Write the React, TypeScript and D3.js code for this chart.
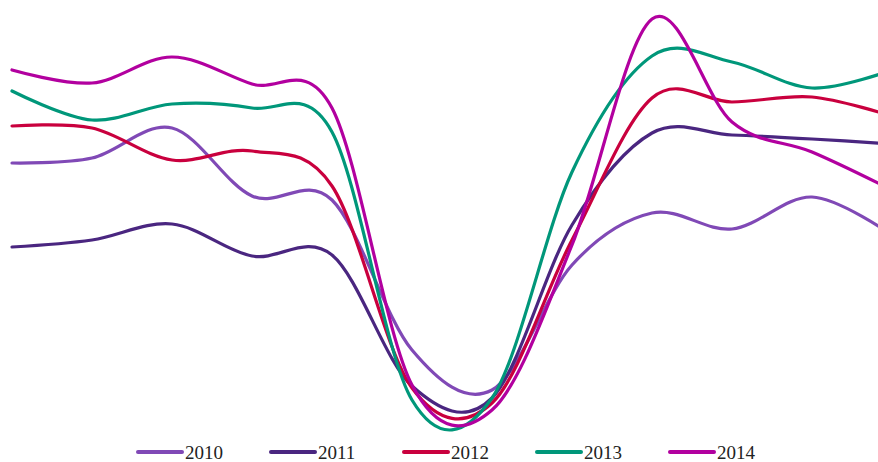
import React from "react";
import * as d3 from "d3";

const months = ["1", "2", "3", "4", "5", "6", "7", "8", "9", "10", "11", "12"];
const seriesNames = ["2010", "2011", "2012", "2013", "2014"];
const colors = ["#8049b6", "#4a2680", "#c9003e", "#00977a", "#b2009f"];

// values in chart units (higher = up)
const s2010 = [287, 292, 322, 254, 250, 100, 60, 185, 237, 221, 253, 215];
const s2011 = [203, 210, 226, 194, 195, 64, 52, 225, 317, 315, 311, 306];
const s2012 = [324, 322, 290, 299, 264, 62, 47, 210, 352, 348, 353, 334];
const s2013 = [359, 330, 346, 342, 318, 50, 52, 278, 394, 388, 362, 380];
const s2014 = [380, 367, 393, 366, 342, 65, 40, 205, 431, 328, 298, 260];
const allSeries = [s2010, s2011, s2012, s2013, s2014];

const W = 878;
const H = 462;

export default function App() {
  const x = d3.scalePoint<string>().domain(months).range([12, 892]);
  const y = d3.scaleLinear().domain([0, 450]).range([450, 0]);
  const line = d3
    .line<number>()
    .x((_, i) => x(months[i]) as number)
    .y((d) => y(d))
    .curve(d3.curveCardinal.tension(0));

  const legendX = d3.scaleLinear().domain([0, 4]).range([138, 670]);

  return (
    <svg
      width={W}
      height={H}
      style={{ position: "absolute", left: 0, top: 0, background: "#fff" }}
    >
      {allSeries.map((s, k) => (
        <path
          key={seriesNames[k]}
          d={line(s) || ""}
          fill="none"
          stroke={colors[k]}
          strokeWidth={3.2}
          strokeLinejoin="round"
          strokeLinecap="round"
        />
      ))}
      {seriesNames.map((n, k) => (
        <g key={n} transform={`translate(${legendX(k)},0)`}>
          <line x1={0} x2={44} y1={452} y2={452} stroke={colors[k]} strokeWidth={4} strokeLinecap="round" />
          <text x={47} y={459} fontFamily="Liberation Serif" fontSize={19} fill="#222">
            {n}
          </text>
        </g>
      ))}
    </svg>
  );
}
